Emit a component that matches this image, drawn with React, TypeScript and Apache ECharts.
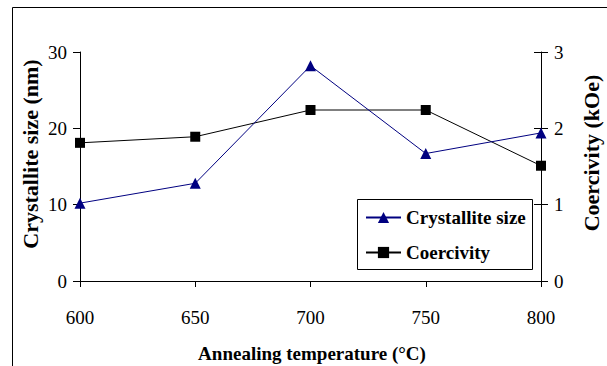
import React, { useEffect, useRef } from "react";
import * as echarts from "echarts";

const temperatures = [600, 650, 700, 750, 800];
const crystalliteSize = [10.2, 12.8, 28.2, 16.7, 19.4];
const coercivity = [1.81, 1.89, 2.24, 2.24, 1.51];
const leftTicks = [0, 10, 20, 30];
const rightTicks = [0, 1, 2, 3];

const FONT = "'Liberation Serif', 'Times New Roman', serif";

export default function App() {
  const ref = useRef<HTMLDivElement>(null);
  useEffect(() => {
    if (!ref.current) return;
    const chart = echarts.init(ref.current, undefined, { renderer: "svg" });
    const sizeData = temperatures.map((t, i) => [t, crystalliteSize[i]]);
    const coerData = temperatures.map((t, i) => [t, coercivity[i]]);
    chart.setOption({
      animation: false,
      backgroundColor: "#ffffff",
      grid: { left: 80, right: 66, top: 52, bottom: 85, containLabel: false },
      xAxis: {
        type: "value",
        min: temperatures[0],
        max: temperatures[temperatures.length - 1],
        interval: 50,
        axisLine: { show: true, onZero: false, lineStyle: { color: "#000", width: 1 } },
        axisTick: { show: true, inside: false, length: 6, lineStyle: { color: "#000" } },
        axisLabel: { margin: 27, color: "#000", fontFamily: FONT, fontSize: 19 },
        splitLine: { show: false },
      },
      yAxis: [
        {
          type: "value",
          position: "left",
          min: leftTicks[0],
          max: leftTicks[leftTicks.length - 1],
          interval: 10,
          axisLine: { show: true, onZero: false, lineStyle: { color: "#000", width: 1 } },
          axisTick: { show: true, inside: false, length: 7, lineStyle: { color: "#000" } },
          axisLabel: { margin: 13, color: "#000", fontFamily: FONT, fontSize: 19 },
          splitLine: { show: false },
        },
        {
          type: "value",
          position: "right",
          min: rightTicks[0],
          max: rightTicks[rightTicks.length - 1],
          interval: 1,
          axisLine: { show: true, onZero: false, lineStyle: { color: "#000", width: 1 } },
          axisTick: { show: true, inside: false, length: 7, lineStyle: { color: "#000" } },
          axisLabel: { margin: 13, color: "#000", fontFamily: FONT, fontSize: 19 },
          splitLine: { show: false },
        },
        {
          type: "value",
          position: "right",
          min: rightTicks[0],
          max: rightTicks[rightTicks.length - 1],
          interval: 1,
          axisLine: { show: false },
          axisTick: { show: true, inside: true, length: 7, lineStyle: { color: "#000" } },
          axisLabel: { show: false },
          splitLine: { show: false },
        },
      ],
      legend: {
        orient: "vertical",
        left: 365,
        top: 208,
        padding: 0,
        itemGap: 16,
        itemWidth: 35,
        itemHeight: 14,
        textStyle: { fontFamily: FONT, fontSize: 19, fontWeight: "bold", color: "#000" },
        data: ["Crystallite size", "Coercivity"],
      },
      graphic: [
        {
          type: "rect",
          z: -1,
          shape: { x: 12.5, y: 7.5, width: 700, height: 500 },
          style: { fill: "none", stroke: "#000", lineWidth: 1 },
          silent: true,
        },
        {
          type: "rect",
          z: 0,
          shape: { x: 357.5, y: 199.5, width: 175, height: 70 },
          style: { fill: "#fff", stroke: "#000", lineWidth: 1 },
          silent: true,
        },
        {
          type: "text",
          x: 312,
          y: 353,
          style: {
            text: "Annealing temperature (°C)",
            fontFamily: FONT,
            fontSize: 19,
            fontWeight: "bold",
            fill: "#000",
            align: "center",
            verticalAlign: "middle",
          },
        },
        {
          type: "text",
          x: 30,
          y: 154,
          rotation: Math.PI / 2,
          style: {
            text: "Crystallite size (nm)",
            fontFamily: FONT,
            fontSize: 22,
            fontWeight: "bold",
            fill: "#000",
            align: "center",
            verticalAlign: "middle",
          },
        },
        {
          type: "text",
          x: 591,
          y: 153,
          rotation: Math.PI / 2,
          style: {
            text: "Coercivity (kOe)",
            fontFamily: FONT,
            fontSize: 22,
            fontWeight: "bold",
            fill: "#000",
            align: "center",
            verticalAlign: "middle",
          },
        },
      ],
      series: [
        {
          name: "Crystallite size",
          type: "line",
          yAxisIndex: 0,
          data: sizeData,
          symbol: "triangle",
          symbolSize: 11,
          itemStyle: { color: "#000080" },
          lineStyle: { color: "#000080", width: 1 },
          z: 3,
        },
        {
          name: "Coercivity",
          type: "line",
          yAxisIndex: 1,
          data: coerData,
          symbol: "rect",
          symbolSize: 10,
          itemStyle: { color: "#000" },
          lineStyle: { color: "#000", width: 1 },
          z: 2,
        },
      ],
    });
    return () => chart.dispose();
  }, []);
  return (
    <div
      ref={ref}
      style={{ position: "fixed", left: 0, top: 0, width: 607, height: 366, background: "#fff" }}
    />
  );
}
